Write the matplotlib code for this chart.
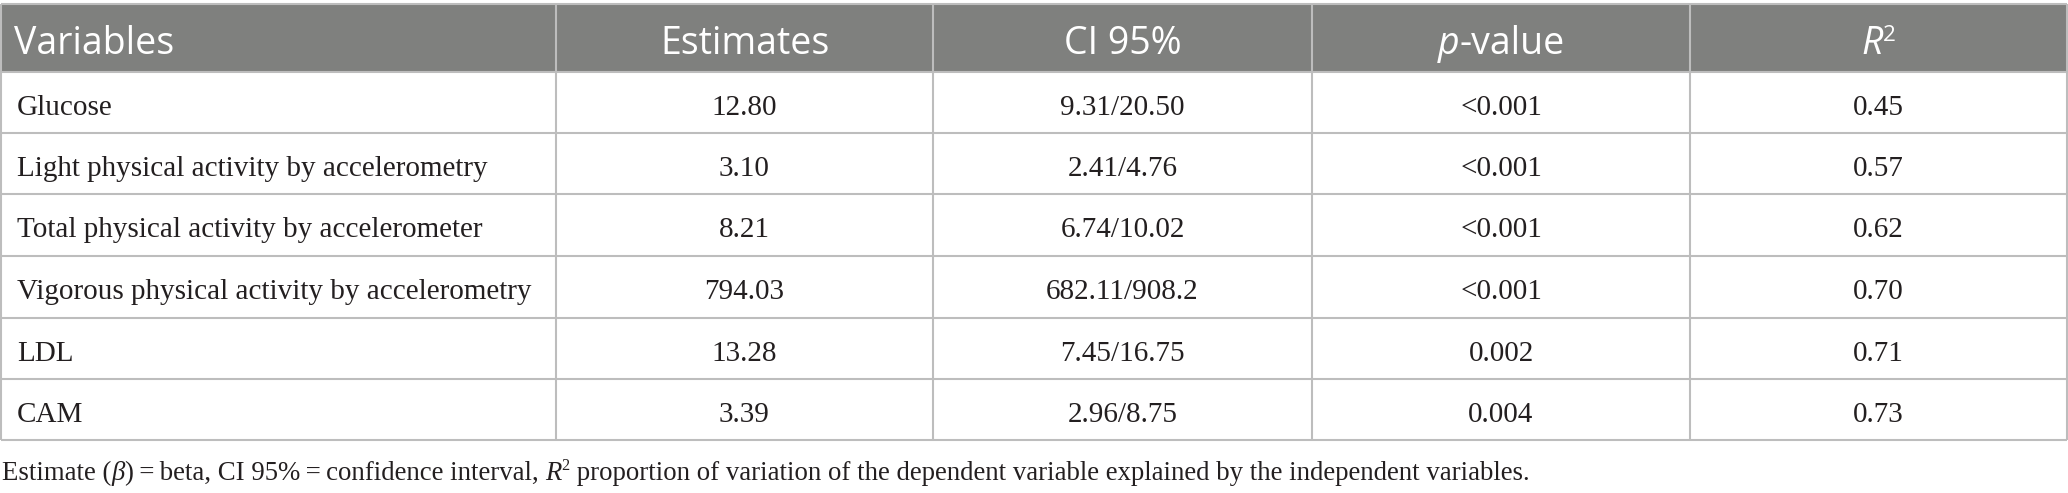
import matplotlib
matplotlib.use("Agg")
import matplotlib.pyplot as plt
from matplotlib.patches import Rectangle

W, H = 2068, 493
DPI = 100

headers = ["Variables", "Estimates", "CI 95%", "p-value", "R2"]
variables = [
    "Glucose",
    "Light physical activity by accelerometry",
    "Total physical activity by accelerometer",
    "Vigorous physical activity by accelerometry",
    "LDL",
    "CAM",
]
estimates = ["12.80", "3.10", "8.21", "794.03", "13.28", "3.39"]
ci95 = ["9.31/20.50", "2.41/4.76", "6.74/10.02", "682.11/908.2", "7.45/16.75", "2.96/8.75"]
p_values = ["<0.001", "<0.001", "<0.001", "<0.001", "0.002", "0.004"]
r_squared = ["0.45", "0.57", "0.62", "0.70", "0.71", "0.73"]

col_edges = [1, 556, 933, 1312, 1690, 2067]
row_edges = [4, 72, 133, 194, 256, 318, 379, 440]

HEAD_BG = "#7f807e"
LINE = "#bdbdbd"
INK = "#231f20"
SERIF = "Liberation Serif"
SANS = "Open Sans"
BODY_SIZE = 21
HEAD_SIZE = 27
NOTE_SIZE = 19.3


def draw_runs(ax, x, y, runs, ha="center"):
    # runs: list of (text, kwargs, dy) drawn side by side on one baseline
    r = ax.figure.canvas.get_renderer()
    widths = []
    arts = []
    for txt, kw, dy in runs:
        t = ax.text(0, y + dy, txt, va="baseline", ha="left", **kw)
        widths.append(t.get_window_extent(renderer=r).width)
        arts.append(t)
    total = sum(widths)
    x0 = x - total / 2 if ha == "center" else x
    for t, w in zip(arts, widths):
        t.set_x(x0)
        x0 += w


fig = plt.figure(figsize=(W / DPI, H / DPI), dpi=DPI)
ax = fig.add_axes([0, 0, 1, 1])
ax.set_xlim(0, W)
ax.set_ylim(H, 0)
ax.axis("off")

# header band
ax.add_patch(Rectangle((col_edges[0], row_edges[0]), col_edges[-1] - col_edges[0],
                       row_edges[1] - row_edges[0], facecolor=HEAD_BG, edgecolor="none"))

# grid
ax.hlines(row_edges, col_edges[0], col_edges[-1], colors=LINE, linewidth=1.5)
ax.vlines(col_edges, row_edges[0], row_edges[-1], colors=LINE, linewidth=1.5)

centers_x = [(a + b) / 2 for a, b in zip(col_edges[:-1], col_edges[1:])]
head_base = row_edges[0] + 50
hkw = dict(family=SANS, fontsize=HEAD_SIZE, color="white")
hkw_it = dict(hkw, style="italic")

ax.text(col_edges[0] + 13, head_base, headers[0], ha="left", va="baseline", **hkw)
ax.text(centers_x[1], head_base, headers[1], ha="center", va="baseline", **hkw)
ax.text(centers_x[2], head_base, headers[2], ha="center", va="baseline", **hkw)
draw_runs(ax, centers_x[3], head_base, [("p", hkw_it, 0), ("-value", hkw, 0)])
draw_runs(ax, centers_x[4], head_base, [("R", hkw_it, 0), ("2", dict(hkw, fontsize=HEAD_SIZE * 0.6), -13)])

bkw = dict(family=SERIF, fontsize=BODY_SIZE, color=INK)
for i, var in enumerate(variables):
    y = row_edges[i + 1] + 43
    ax.text(col_edges[0] + 16, y, var, ha="left", va="baseline", **bkw)
    ax.text(centers_x[1], y, estimates[i], ha="center", va="baseline", **bkw)
    ax.text(centers_x[2], y, ci95[i], ha="center", va="baseline", **bkw)
    ax.text(centers_x[3], y, p_values[i], ha="center", va="baseline", **bkw)
    ax.text(centers_x[4], y, r_squared[i], ha="center", va="baseline", **bkw)

# footnote
fkw = dict(family=SERIF, fontsize=NOTE_SIZE, color=INK)
fkw_it = dict(fkw, style="italic")
draw_runs(ax, 2, 480, [
    ("Estimate (", fkw, 0),
    ("\u03b2", fkw_it, 0),
    (")\u2009=\u2009beta, CI 95%\u2009=\u2009confidence interval, ", fkw, 0),
    ("R", fkw_it, 0),
    ("2", dict(fkw, fontsize=NOTE_SIZE * 0.6), -10),
    (" proportion of variation of the dependent variable explained by the independent variables.", fkw, 0),
], ha="left")

fig.savefig("out.png", dpi=DPI)
